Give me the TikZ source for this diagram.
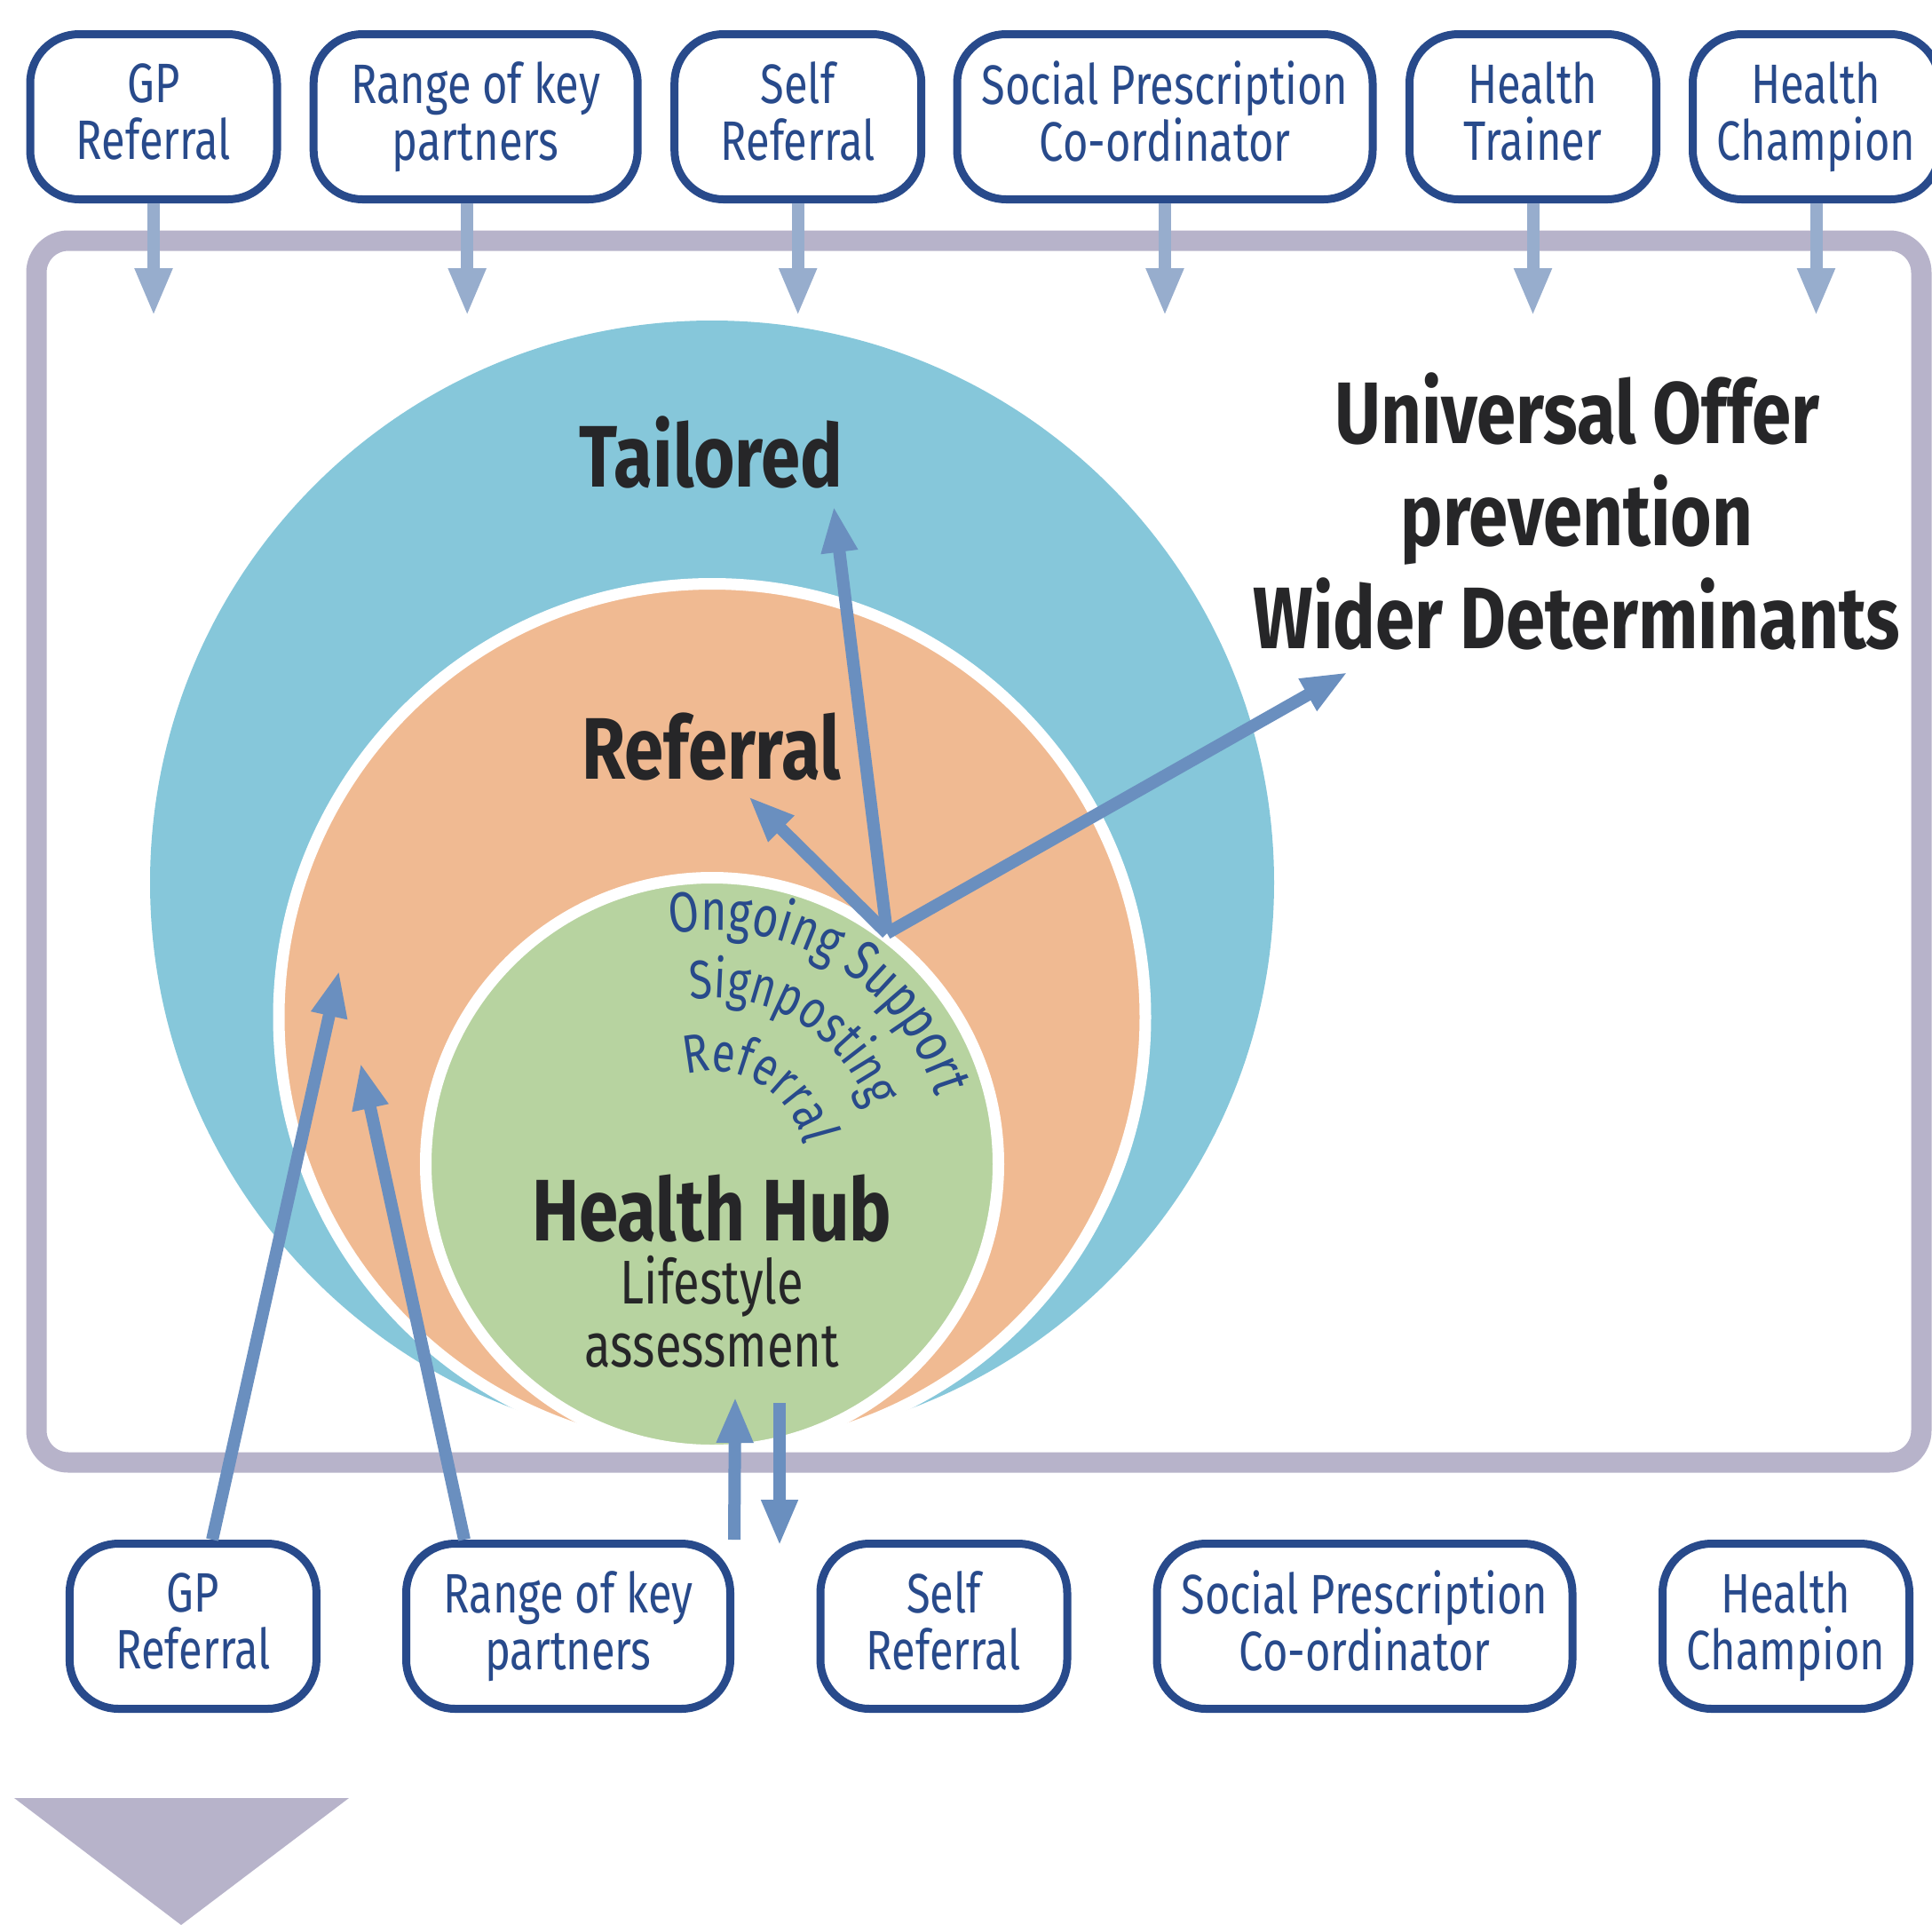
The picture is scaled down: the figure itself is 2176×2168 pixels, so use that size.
\documentclass[tikz,border=0pt]{standalone}
\usepackage{fontspec}
\setmainfont{Fira Sans}[FakeStretch=0.78]
\newfontfamily\headfam{Fira Sans}[FakeStretch=0.81]
\usepackage{tikz}
\usetikzlibrary{arrows.meta,calc,decorations.text}
\definecolor{navy}{HTML}{284A8B}
\definecolor{feedblue}{HTML}{97ADCD}
\definecolor{flowblue}{HTML}{6A8FBF}
\definecolor{lavender}{HTML}{B7B3CA}
\definecolor{tailored}{HTML}{86C7DA}
\definecolor{referral}{HTML}{F0BA92}
\definecolor{hub}{HTML}{B7D3A0}
\definecolor{ink}{HTML}{262628}
\newcommand{\boxfont}{\fontsize{17.8}{18.2}\selectfont}
\newcommand{\headfont}{\headfam\fontsize{28}{32}\selectfont\bfseries}
\newcommand{\hubfont}{\fontsize{19.8}{20}\selectfont}
\newcommand{\arcfont}{\fontsize{17.4}{18}\selectfont}
\newcommand{\arcbig}{\fontsize{18.2}{19}\selectfont}
\newcommand{\boxstrut}{\rule[-3.5pt]{0pt}{17.5pt}}
\tikzset{
  src/.style={draw=navy, line width=0.9mm, fill=white, rounded corners=5.5mm,
    minimum height=18.6mm, align=center, text=navy, font=\boxfont,
    execute at begin node=\boxstrut, execute at end node=\boxstrut},
  srcS/.style={src, minimum width=27.8mm},
  srcM/.style={src, minimum width=36.5mm},
  srcL/.style={src, minimum width=46.8mm},
  feed/.style={-{Triangle[length=5.4mm,width=3.9mm]}, line width=1.4mm, draw=feedblue},
  flow/.style={-{Triangle[length=5.2mm,width=3.8mm]}, line width=1.4mm, draw=flowblue},
  hd/.style={anchor=base, text=ink, font=\headfont},
  hubtxt/.style={anchor=base, text=ink, font=\hubfont},
  ring/.style={draw=white, line width=1.3mm}
}

\begin{document}
\begin{tikzpicture}[x=0.1mm, y=0.1mm]
  \useasboundingbox (0,0) rectangle (2176,-2168);
  % three circles, touching at the bottom
  \coordinate (hubc) at (802,-1311);
  \fill[tailored] (802,-994) circle (633);
  \draw[ring, fill=referral] (802,-1145.5) circle (488);
  \draw[ring, fill=hub] (hubc) circle (322.5);
  % frame and marker
  \draw[lavender, line width=2.3mm, rounded corners=3.6mm] (41,-271) rectangle (2164,-1647);
  \fill[lavender] (16,-2025) -- (393,-2025) -- (204,-2168) -- cycle;

  % top row
  \node[srcS] (gpT) at (173,-131.5) {GP\\Referral};
  \node[srcM] (rngT) at (535.7,-131.5) {Range of key\\partners};
  \node[srcS] (selfT) at (898.7,-131.5) {Self\\Referral};
  \node[srcL] (socT) at (1312,-131.5) {Social Prescription\\Co-ordinator};
  \node[srcS] (trnT) at (1726.5,-131.5) {Health\\Trainer};
  \node[srcS] (chmT) at (2045.5,-131.5) {Health\\Champion};
  % bottom row
  \node[srcS] (gpB) at (217.4,-1831.5) {GP\\Referral};
  \node[srcM] (rngB) at (640,-1831.5) {Range of key\\partners};
  \node[srcS] (selfB) at (1063,-1831.5) {Self\\Referral};
  \node[srcL] (socB) at (1537,-1831.5) {Social Prescription\\Co-ordinator};
  \node[srcS] (chmB) at (2011.5,-1831.5) {Health\\Champion};

  \coordinate (topin) at (0,-356);
  \foreach \b in {gpT,selfT,socT,trnT,chmT}
    \draw[feed] (\b) -- (\b |- topin);
  \draw[feed] ($(rngT.south)+(-9.5,0)$) -- ($(rngT.south |- topin)+(-9.5,0)$);

  \coordinate (src) at (999,-1051);
  \coordinate (tTip) at (939,-570);
  \coordinate (rTip) at (843,-897);
  \coordinate (wTip) at (1518,-757);
  \draw[flow] (src) -- (tTip);
  \draw[flow] (src) -- (rTip);
  \draw[flow] (src) -- (wTip);

  \coordinate (gpTip) at (382,-1093);
  \coordinate (rngTip) at (406,-1197);
  \coordinate (upTip) at (828,-1573);
  \coordinate (dnTop) at (878,-1580);
  \coordinate (dnTip) at (878,-1741);
  \draw[flow] (gpB) -- (gpTip);
  \draw[flow] ($(rngB.north)+(-117,0)$) -- (rngTip);
  \draw[flow] (rngB.north east) -- (upTip);
  \draw[flow] (dnTop) -- (dnTip);

  % labels
  \node[hd] (tl) at (801,-548) {Tailored};
  \node[hd] (rf) at (801,-877) {Referral};
  \node[hd] (hh) at (802,-1397) {Health Hub};
  \node[hubtxt] (ls) at (802,-1468) {Lifestyle};
  \node[hubtxt] (as) at (802,-1539) {assessment};
  \node[hd] (uo) at (1776,-499) {Universal Offer};
  \node[hd] (pv) at (1776,-614) {prevention};
  \node[hd] (wd) at (1776,-730) {Wider Determinants};

  % curved labels round the hub
  \path[decorate, decoration={text along path, text align=center,
    text={|\arcbig\color{navy}|Ongoing Support}}]
    ($(hubc)+(125:263)$) arc[start angle=125, end angle=-8, radius=263];
  \path[decorate, decoration={text along path, text align=center,
    text={|\arcfont\color{navy}|Signposting}}]
    ($(hubc)+(128.5:187)$) arc[start angle=128.5, end angle=-11.5, radius=187];
  \path[decorate, decoration={text along path, text align=center,
    text={|\arcfont\color{navy}|Referral}}]
    ($(hubc)+(139:105)$) arc[start angle=139, end angle=-21, radius=105];
\end{tikzpicture}
\end{document}
